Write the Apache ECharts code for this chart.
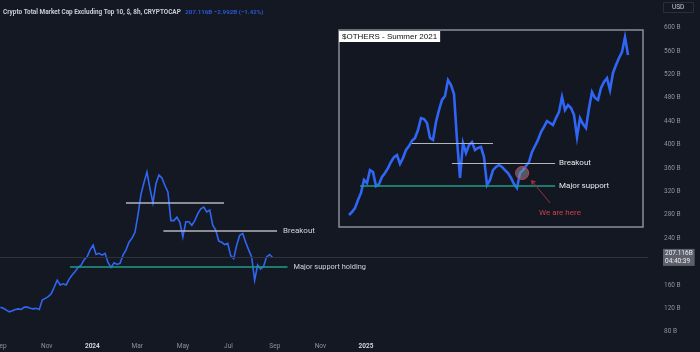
<!DOCTYPE html>
<html>
<head>
<meta charset="utf-8">
<script src="https://cdn.jsdelivr.net/npm/echarts@6/dist/echarts.min.js"></script>
<style>
  html, body { margin: 0; padding: 0; background: #141823; }
  #chart { width: 700px; height: 352px; }
</style>
</head>
<body>
<div id="chart"></div>
<script>
// main chart: CRYPTOCAP OTHERS-like series, one value every 4 days from 2023-08-31 (billions USD)
const mainStart = '2023-08-31';
const mainStepDays = 4;
const mainValues = [
  122, 120, 117, 114, 116, 118, 119, 118, 122, 122,
  120, 119, 120, 118, 134, 137, 140, 145, 156, 168,
  160, 162, 160, 170, 177, 183, 190, 194, 203, 208,
  220, 228, 212, 214, 211, 214, 198, 190, 198, 195,
  197, 211, 220, 233, 240, 250, 280, 315, 335, 353,
  325, 300, 333, 348, 343, 330, 319, 270, 270, 276,
  267, 242, 268, 268, 262, 270, 282, 290, 293, 285,
  288, 262, 254, 235, 233, 229, 231, 210, 205, 228,
  245, 248, 233, 220, 208, 168, 194, 187, 192, 208,
  212, 207
];
const lastPrice = 207.116;

// x axis ticks
const tickDates = ['2023-09-01', '2023-11-01', '2024-01-01', '2024-03-01', '2024-05-01',
  '2024-07-01', '2024-09-01', '2024-11-01', '2025-01-01'];
const tickLabels = ['Sep', 'Nov', '2024', 'Mar', 'May', 'Jul', 'Sep', 'Nov', '2025'];

// annotation levels on the main chart
const resistanceLevel = { from: '2024-02-15', to: '2024-06-25', value: 301 };
const breakoutLevel = { from: '2024-04-05', to: '2024-09-04', value: 252 };
const supportLevel = { from: '2023-12-02', to: '2024-09-18', value: 191 };

// inset: $OTHERS summer 2021 (relative scale 0-100)
const insetValues = [
  6.1, 7.6, 9.6, 13.7, 17.3, 23.9, 22.3, 28.9, 27.9, 20.8,
  21.8, 25.4, 27.4, 29.9, 33.0, 35.5, 36.5, 32.0, 35.0, 39.1,
  41.1, 43.7, 45.2, 49.2, 55.3, 54.8, 52.8, 45.2, 44.2, 53.3,
  59.4, 64.5, 66.5, 74.6, 72.1, 67.5, 44.2, 24.9, 42.6, 37.6,
  41.6, 43.1, 39.1, 40.1, 40.6, 35.5, 21.3, 23.9, 28.9, 30.5,
  31.5, 30.5, 28.9, 27.4, 24.9, 21.8, 19.8, 27.4, 28.9, 31.0,
  33.0, 38.1, 41.1, 44.2, 48.2, 50.8, 53.8, 52.8, 51.8, 55.3,
  58.4, 66.0, 59.4, 61.9, 60.4, 56.9, 45.7, 55.3, 52.3, 50.3,
  60.4, 68.5, 65.5, 64.5, 70.6, 73.6, 75.6, 69.5, 78.2, 82.2,
  85.8, 88.8, 96.4, 87.3
];
const insetResistance = { from: 21, to: 48, value: 42.5 };
const insetBreakout = { from: 34.3, to: 68.7, value: 32.6 };
const insetSupport = { from: 3.7, to: 68.7, value: 20.8 };
const insetHere = [57.7, 27.4];
const insetArrow = { from: [67, 12.2], to: [60.7, 23.9] };
const insetNote = [70.3, 7.1];

const DAY = 86400000;
const t = (s) => Date.parse(s + 'T00:00:00Z');

const mainData = mainValues.map((v, i) => [t(mainStart) + i * mainStepDays * DAY, v]);
const insetData = insetValues.map((v, i) => [i, v]);
const tickTimes = tickDates.map(t);

const textGrey = '#8f929b';
const lineBlue = '#2f66f5';
const levelGrey = '#b2b5be';
const levelGreen = '#1f9c86';

const chart = echarts.init(document.getElementById('chart'));

chart.setOption({
  backgroundColor: '#141823',
  animation: false,
  textStyle: { fontFamily: 'Roboto, sans-serif' },
  title: [
    {
      left: 3,
      top: 3,
      padding: 0,
      text: '{a|Crypto Total Market Cap Excluding Top 10, $, 8h, CRYPTOCAP} {b|207.116B −2.992B (−1.42%)}',
      textStyle: {
        rich: {
          a: { color: '#c9ccd4', fontSize: 6.4 },
          b: { color: '#2a58d6', fontSize: 6.2 }
        }
      }
    },
    {
      left: 339,
      top: 31,
      text: '$OTHERS - Summer 2021',
      backgroundColor: '#ffffff',
      padding: [2, 3, 1, 3],
      textStyle: { color: '#111', fontSize: 8, fontWeight: 'normal', fontFamily: 'Liberation Sans, Arial, sans-serif' }
    },
    {
      left: 663,
      top: 2,
      text: 'USD',
      padding: [2, 9, 2, 9],
      borderColor: '#2a2e39',
      borderWidth: 1,
      textStyle: { color: '#c9ccd4', fontSize: 6.5, fontWeight: 'normal' }
    }
  ],
  grid: [
    { left: 0, right: 52, top: 4.3, bottom: 20.3, containLabel: false, outerBoundsMode: 'none' },
    {
      left: 339, top: 30, width: 304, height: 197, containLabel: false, outerBoundsMode: 'none',
      show: true, backgroundColor: '#131722', borderColor: '#8b8e96', borderWidth: 1.5
    }
  ],
  xAxis: [
    {
      type: 'value',
      gridIndex: 0,
      min: Date.UTC(2023, 7, 30, 12),
      max: Date.UTC(2026, 0, 13),
      axisLine: { show: false },
      axisTick: { show: false },
      splitLine: { show: false },
      axisLabel: {
        customValues: tickTimes,
        color: textGrey,
        fontSize: 6.5,
        margin: 11,
        formatter: (v) => {
          const i = tickTimes.indexOf(v);
          const s = i >= 0 ? tickLabels[i] : '';
          return /^\d{4}$/.test(s) ? '{y|' + s + '}' : s;
        },
        rich: { y: { color: '#d1d4dc', fontWeight: 'bold', fontSize: 6.5 } }
      }
    },
    {
      type: 'value',
      gridIndex: 1,
      min: -3.33,
      max: 98,
      show: false
    }
  ],
  yAxis: [
    {
      type: 'value',
      gridIndex: 0,
      position: 'right',
      min: 80,
      max: 640,
      interval: 40,
      axisLine: { show: false },
      axisTick: { show: false },
      splitLine: { show: false },
      axisLabel: {
        showMaxLabel: false,
        color: textGrey,
        fontSize: 6.5,
        margin: 16,
        formatter: (v) => (v === 200 ? '' : v + ' B')
      }
    },
    {
      type: 'value',
      gridIndex: 1,
      min: 0,
      max: 100,
      show: false
    }
  ],
  series: [
    {
      type: 'line',
      xAxisIndex: 0,
      yAxisIndex: 0,
      data: mainData,
      smooth: false,
      showSymbol: false,
      lineStyle: { color: lineBlue, width: 1.6, join: 'miter' },
      z: 3,
      markLine: {
        silent: true,
        symbol: ['none', 'none'],
        label: { color: '#d1d4dc', fontSize: 8, distance: 6 },
        data: [
          [
            { coord: [t(resistanceLevel.from), resistanceLevel.value], lineStyle: { color: levelGrey, width: 1.5, type: 'solid' }, label: { show: false } },
            { coord: [t(resistanceLevel.to), resistanceLevel.value] }
          ],
          [
            { coord: [t(breakoutLevel.from), breakoutLevel.value], lineStyle: { color: levelGrey, width: 1.5, type: 'solid' }, label: { show: true, position: 'end', formatter: 'Breakout' } },
            { coord: [t(breakoutLevel.to), breakoutLevel.value] }
          ],
          [
            { coord: [t(supportLevel.from), supportLevel.value], lineStyle: { color: levelGreen, width: 1.5, type: 'solid' }, label: { show: true, position: 'end', formatter: 'Major support holding', fontSize: 7.4 } },
            { coord: [t(supportLevel.to), supportLevel.value] }
          ],
          {
            yAxis: lastPrice,
            lineStyle: { color: '#2e323d', width: 1, type: 'solid' },
            label: {
              show: true,
              position: 'end',
              distance: 15,
              formatter: '207.116B\n04:40:39',
              backgroundColor: '#5d606b',
              color: '#eceef2',
              fontSize: 6.5,
              lineHeight: 8,
              padding: [1, 2, 0, 2]
            }
          }
        ]
      }
    },
    {
      type: 'line',
      xAxisIndex: 1,
      yAxisIndex: 1,
      data: insetData,
      smooth: false,
      showSymbol: false,
      lineStyle: { color: lineBlue, width: 2.6, join: 'miter' },
      z: 3,
      markLine: {
        silent: true,
        symbol: ['none', 'none'],
        label: { color: '#e6e8ec', fontSize: 8, distance: 4 },
        data: [
          [
            { coord: [insetResistance.from, insetResistance.value], lineStyle: { color: levelGrey, width: 1.2, type: 'solid' }, label: { show: false } },
            { coord: [insetResistance.to, insetResistance.value] }
          ],
          [
            { coord: [insetBreakout.from, insetBreakout.value], lineStyle: { color: levelGrey, width: 1.2, type: 'solid' }, label: { show: true, position: 'end', formatter: 'Breakout' } },
            { coord: [insetBreakout.to, insetBreakout.value] }
          ],
          [
            { coord: [insetSupport.from, insetSupport.value], lineStyle: { color: levelGreen, width: 1.5, type: 'solid' }, label: { show: true, position: 'end', formatter: 'Major support' } },
            { coord: [insetSupport.to, insetSupport.value] }
          ],
          [
            { coord: insetArrow.from, symbol: 'none', lineStyle: { color: '#9c2f3c', width: 1, type: 'solid' }, label: { show: false } },
            { coord: insetArrow.to, symbol: 'arrow', symbolSize: 5 }
          ]
        ]
      },
      markPoint: {
        silent: true,
        data: [
          {
            coord: insetHere,
            symbol: 'circle',
            symbolSize: 13,
            itemStyle: { color: 'rgba(140,142,150,0.55)', borderColor: '#c93c4c', borderWidth: 1 },
            label: { show: false }
          },
          {
            coord: insetNote,
            symbol: 'circle',
            symbolSize: 0,
            label: { show: true, position: 'inside', formatter: 'We are here', color: '#c8404f', fontSize: 8 }
          }
        ]
      }
    }
  ]
});
</script>
</body>
</html>
